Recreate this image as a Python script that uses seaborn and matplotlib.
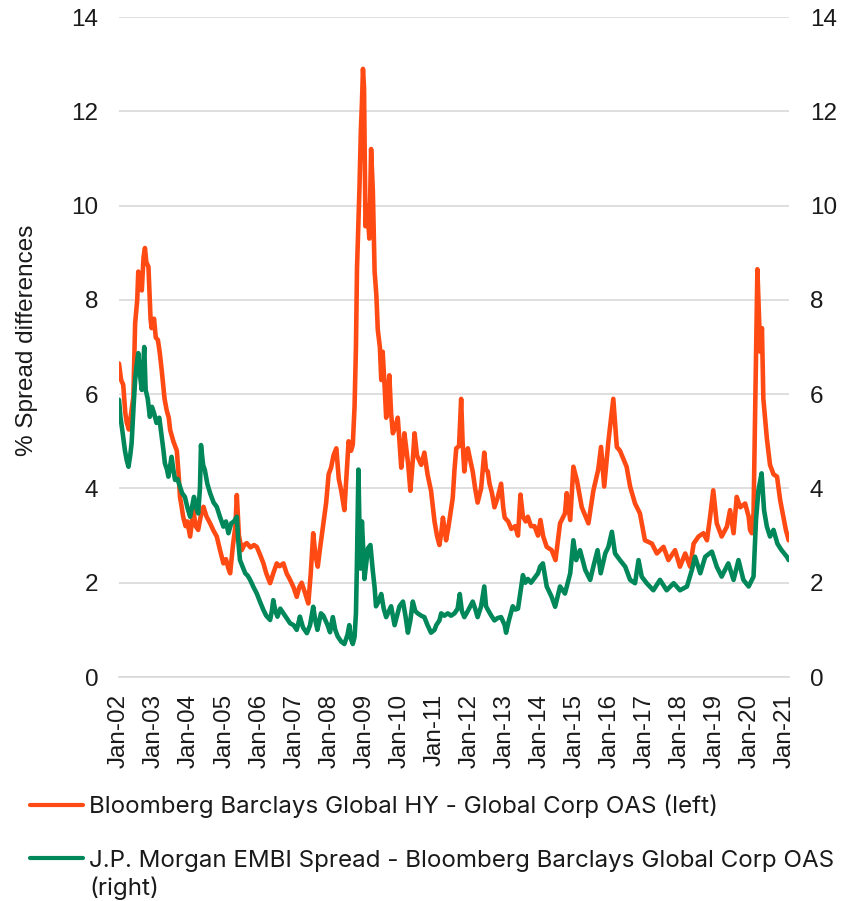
import pandas as pd
import matplotlib
matplotlib.use("Agg")
import matplotlib.pyplot as plt
import matplotlib.dates as mdates
import seaborn as sns

# ===========================
# DATA (x in fractional years)
# ===========================

hy_years = [
    2002.00, 2002.06, 2002.12, 2002.18, 2002.22, 2002.28, 2002.33, 2002.41, 2002.46, 2002.52,
    2002.55, 2002.60, 2002.65, 2002.70, 2002.74, 2002.78, 2002.84, 2002.90, 2002.93, 2003.00,
    2003.05, 2003.11, 2003.16, 2003.22, 2003.30, 2003.36, 2003.42, 2003.46, 2003.55, 2003.65,
    2003.70, 2003.74, 2003.79, 2003.83, 2003.90, 2003.95, 2004.03, 2004.08, 2004.12, 2004.19,
    2004.26, 2004.33, 2004.41, 2004.50, 2004.60, 2004.70, 2004.79, 2004.88, 2004.98, 2005.05,
    2005.12, 2005.17, 2005.25, 2005.32, 2005.36, 2005.42, 2005.50, 2005.57, 2005.64, 2005.75,
    2005.85, 2005.93, 2006.02, 2006.12, 2006.20, 2006.31, 2006.40, 2006.50, 2006.58, 2006.69,
    2006.78, 2006.88, 2006.98, 2007.07, 2007.14, 2007.21, 2007.30, 2007.40, 2007.47, 2007.54,
    2007.60, 2007.67, 2007.73, 2007.82, 2007.91, 2007.98, 2008.05, 2008.12, 2008.20, 2008.27,
    2008.34, 2008.43, 2008.50, 2008.55, 2008.62, 2008.67, 2008.72, 2008.76, 2008.79, 2008.83,
    2008.86, 2008.90, 2008.93, 2008.96, 2008.99, 2009.03, 2009.08, 2009.14, 2009.19, 2009.24,
    2009.29, 2009.34, 2009.38, 2009.44, 2009.48, 2009.52, 2009.58, 2009.62, 2009.67, 2009.71,
    2009.76, 2009.81, 2009.88, 2009.95, 2010.00, 2010.05, 2010.10, 2010.14, 2010.20, 2010.25,
    2010.31, 2010.38, 2010.43, 2010.50, 2010.56, 2010.62, 2010.71, 2010.80, 2010.90, 2011.00,
    2011.07, 2011.14, 2011.20, 2011.24, 2011.33, 2011.40, 2011.52, 2011.57, 2011.62, 2011.70,
    2011.76, 2011.80, 2011.85, 2011.90, 2011.95, 2012.02, 2012.09, 2012.16, 2012.23, 2012.33,
    2012.42, 2012.47, 2012.52, 2012.57, 2012.64, 2012.71, 2012.80, 2012.90, 2012.96, 2013.00,
    2013.10, 2013.19, 2013.30, 2013.38, 2013.45, 2013.52, 2013.60, 2013.66, 2013.75, 2013.85,
    2013.95, 2014.02, 2014.10, 2014.20, 2014.34, 2014.45, 2014.58, 2014.72, 2014.77, 2014.87,
    2014.96, 2015.06, 2015.20, 2015.39, 2015.53, 2015.67, 2015.75, 2015.84, 2015.96, 2016.10,
    2016.20, 2016.29, 2016.48, 2016.58, 2016.72, 2016.86, 2017.00, 2017.20, 2017.34, 2017.53,
    2017.67, 2017.86, 2018.00, 2018.15, 2018.29, 2018.39, 2018.53, 2018.67, 2018.77, 2018.86,
    2018.95, 2019.05, 2019.19, 2019.34, 2019.43, 2019.53, 2019.62, 2019.72, 2019.86, 2019.96,
    2020.00, 2020.05, 2020.10, 2020.14, 2020.21, 2020.29, 2020.34, 2020.38, 2020.48, 2020.57,
    2020.67, 2020.77, 2020.86, 2020.95, 2021.02, 2021.10,
]
hy_spread = [
    6.65, 6.30, 6.20, 5.60, 5.40, 5.25, 5.50, 5.95, 7.50, 8.00,
    8.60, 8.30, 8.20, 8.90, 9.10, 8.80, 8.70, 7.60, 7.40, 7.60,
    7.20, 7.15, 6.90, 6.50, 5.90, 5.66, 5.50, 5.24, 5.00, 4.80,
    4.30, 3.82, 3.60, 3.40, 3.20, 3.30, 2.98, 3.30, 3.54, 3.20,
    3.12, 3.40, 3.61, 3.40, 3.26, 3.10, 2.98, 2.70, 2.41, 2.50,
    2.30, 2.20, 2.80, 3.20, 3.86, 3.00, 2.69, 2.80, 2.84, 2.75,
    2.80, 2.76, 2.60, 2.41, 2.20, 1.99, 2.20, 2.41, 2.35, 2.41,
    2.20, 2.06, 1.90, 1.70, 1.90, 2.00, 1.80, 1.56, 2.20, 3.05,
    2.60, 2.34, 2.70, 3.20, 3.70, 4.30, 4.44, 4.70, 4.85, 4.20,
    3.95, 3.54, 4.40, 5.00, 4.80, 4.93, 5.74, 7.00, 8.67, 9.60,
    10.37, 11.60, 12.16, 12.90, 12.50, 9.56, 10.00, 9.30, 11.20, 10.30,
    8.60, 8.10, 7.37, 7.00, 6.30, 6.90, 6.10, 5.50, 6.00, 6.40,
    5.60, 5.17, 5.30, 5.50, 5.00, 4.44, 4.80, 5.17, 4.80, 4.50,
    3.95, 4.60, 5.17, 4.70, 4.60, 4.50, 4.76, 4.30, 3.95, 3.30,
    3.00, 2.80, 3.10, 3.38, 2.90, 3.20, 3.80, 4.40, 4.85, 4.90,
    5.90, 5.00, 4.36, 4.70, 4.85, 4.60, 4.36, 4.00, 3.70, 4.00,
    4.76, 4.40, 4.36, 4.10, 3.90, 3.60, 3.80, 4.10, 3.60, 3.38,
    3.30, 3.14, 3.20, 3.00, 3.87, 3.40, 3.30, 3.40, 3.20, 3.20,
    3.00, 3.33, 2.98, 2.76, 2.69, 2.48, 3.26, 3.47, 3.90, 3.33,
    4.46, 4.18, 3.60, 3.26, 3.95, 4.40, 4.88, 4.04, 5.00, 5.90,
    4.88, 4.80, 4.46, 4.04, 3.68, 3.47, 2.90, 2.83, 2.62, 2.76,
    2.48, 2.69, 2.34, 2.62, 2.34, 2.83, 2.98, 3.05, 2.90, 3.40,
    3.96, 3.26, 2.98, 3.19, 3.54, 3.05, 3.82, 3.60, 3.68, 3.40,
    3.12, 3.05, 3.47, 5.40, 8.65, 6.90, 7.40, 5.90, 5.06, 4.50,
    4.30, 4.25, 3.75, 3.40, 3.12, 2.90,
]

em_years = [
    2002.00, 2002.04, 2002.10, 2002.17, 2002.22, 2002.27, 2002.32, 2002.36, 2002.42, 2002.46,
    2002.50, 2002.55, 2002.60, 2002.65, 2002.72, 2002.76, 2002.82, 2002.88, 2002.94, 2003.00,
    2003.07, 2003.15, 2003.22, 2003.27, 2003.31, 2003.37, 2003.41, 2003.50, 2003.55, 2003.60,
    2003.67, 2003.74, 2003.80, 2003.88, 2003.95, 2004.03, 2004.14, 2004.20, 2004.26, 2004.31,
    2004.34, 2004.40, 2004.45, 2004.52, 2004.60, 2004.70, 2004.79, 2004.88, 2004.98, 2005.05,
    2005.12, 2005.20, 2005.28, 2005.36, 2005.40, 2005.45, 2005.52, 2005.60, 2005.67, 2005.74,
    2005.84, 2005.93, 2006.02, 2006.12, 2006.20, 2006.31, 2006.36, 2006.40, 2006.46, 2006.52,
    2006.60, 2006.69, 2006.78, 2006.88, 2006.98, 2007.07, 2007.12, 2007.16, 2007.25, 2007.36,
    2007.45, 2007.54, 2007.60, 2007.66, 2007.76, 2007.83, 2007.95, 2008.02, 2008.10, 2008.17,
    2008.24, 2008.34, 2008.43, 2008.52, 2008.57, 2008.62, 2008.67, 2008.72, 2008.76, 2008.79,
    2008.83, 2008.86, 2008.89, 2008.93, 2008.98, 2009.00, 2009.05, 2009.10, 2009.17, 2009.24,
    2009.29, 2009.33, 2009.40, 2009.48, 2009.55, 2009.62, 2009.70, 2009.76, 2009.86, 2009.93,
    2010.00, 2010.10, 2010.17, 2010.24, 2010.31, 2010.38, 2010.45, 2010.52, 2010.62, 2010.71,
    2010.80, 2010.90, 2011.00, 2011.05, 2011.14, 2011.19, 2011.28, 2011.38, 2011.47, 2011.57,
    2011.66, 2011.72, 2011.78, 2011.85, 2011.95, 2012.09, 2012.16, 2012.23, 2012.33, 2012.42,
    2012.47, 2012.52, 2012.62, 2012.71, 2012.80, 2012.90, 2013.00, 2013.04, 2013.12, 2013.23,
    2013.30, 2013.38, 2013.45, 2013.52, 2013.59, 2013.66, 2013.75, 2013.85, 2013.95, 2014.01,
    2014.09, 2014.20, 2014.34, 2014.44, 2014.58, 2014.72, 2014.87, 2014.96, 2015.04, 2015.15,
    2015.30, 2015.44, 2015.53, 2015.65, 2015.74, 2015.87, 2015.96, 2016.06, 2016.15, 2016.29,
    2016.44, 2016.58, 2016.72, 2016.82, 2016.91, 2017.05, 2017.24, 2017.43, 2017.62, 2017.82,
    2018.00, 2018.20, 2018.34, 2018.43, 2018.58, 2018.72, 2018.91, 2019.05, 2019.19, 2019.38,
    2019.53, 2019.67, 2019.81, 2019.96, 2020.10, 2020.17, 2020.24, 2020.33, 2020.40, 2020.48,
    2020.57, 2020.67, 2020.78, 2020.90, 2021.05, 2021.10,
]
em_spread = [
    5.88, 5.52, 5.20, 4.80, 4.60, 4.46, 4.70, 4.96, 5.80, 6.30,
    6.60, 6.87, 6.40, 6.09, 7.00, 6.09, 5.90, 5.52, 5.73, 5.60,
    5.39, 5.50, 5.10, 4.80, 4.53, 4.40, 4.25, 4.67, 4.40, 4.18,
    4.20, 4.04, 3.90, 3.82, 3.60, 3.40, 3.82, 3.60, 3.47, 4.00,
    4.92, 4.50, 4.39, 4.10, 3.90, 3.70, 3.61, 3.40, 3.19, 3.30,
    3.05, 3.26, 3.30, 3.40, 2.90, 2.48, 2.35, 2.20, 2.15, 2.06,
    1.90, 1.77, 1.60, 1.42, 1.30, 1.21, 1.40, 1.63, 1.40, 1.28,
    1.45, 1.35, 1.25, 1.14, 1.10, 1.00, 1.15, 1.28, 1.05, 0.93,
    1.10, 1.49, 1.20, 1.00, 1.35, 1.30, 1.10, 0.95, 1.27, 1.00,
    0.86, 0.75, 0.70, 0.90, 1.10, 0.80, 0.70, 0.85, 1.35, 2.50,
    4.40, 3.20, 2.30, 3.30, 2.50, 2.08, 2.40, 2.73, 2.80, 2.24,
    1.90, 1.50, 1.60, 1.76, 1.45, 1.27, 1.40, 1.50, 1.10, 1.30,
    1.50, 1.60, 1.30, 0.94, 1.20, 1.60, 1.40, 1.35, 1.30, 1.27,
    1.10, 0.94, 1.00, 1.10, 1.20, 1.35, 1.30, 1.35, 1.30, 1.35,
    1.45, 1.76, 1.40, 1.27, 1.40, 1.60, 1.45, 1.27, 1.50, 1.92,
    1.50, 1.43, 1.30, 1.20, 1.25, 1.27, 1.10, 0.94, 1.20, 1.50,
    1.43, 1.45, 1.80, 2.16, 2.00, 2.08, 2.00, 2.10, 2.20, 2.34,
    2.41, 1.92, 1.70, 1.49, 1.92, 1.77, 2.20, 2.90, 2.48, 2.69,
    2.27, 2.06, 2.34, 2.69, 2.20, 2.62, 2.76, 3.08, 2.62, 2.48,
    2.34, 2.06, 1.99, 2.48, 2.13, 1.99, 1.84, 2.06, 1.84, 1.99,
    1.84, 1.92, 2.27, 2.55, 2.20, 2.55, 2.66, 2.34, 2.13, 2.41,
    2.06, 2.48, 2.06, 1.92, 2.13, 3.33, 3.96, 4.32, 3.54, 3.19,
    2.98, 3.12, 2.83, 2.69, 2.55, 2.48,
]

hy_label = "Bloomberg Barclays Global HY - Global Corp OAS (left)"
em_label = "J.P. Morgan EMBI Spread - Bloomberg Barclays Global Corp OAS"
em_label_wrap = "(right)"
y_label = "% Spread differences"
y_ticks = [0, 2, 4, 6, 8, 10, 12, 14]

orange = "#ff4a14"
green = "#00875a"
grid_grey = "#d9d9d9"
text_col = "#1a1a1a"


def to_date(y):
    base = pd.Timestamp(year=int(y), month=1, day=1)
    return base + pd.Timedelta(days=(y - int(y)) * 365.25)


hy_df = pd.DataFrame({"Date": [to_date(y) for y in hy_years], "Spread": hy_spread})
em_df = pd.DataFrame({"Date": [to_date(y) for y in em_years], "Spread": em_spread})

# ===========================
# STYLE
# ===========================

sns.set_style("white")
plt.rcParams["font.family"] = ["Liberation Sans", "DejaVu Sans"]
plt.rcParams["text.color"] = text_col
fs = 17.5
leg_font = {"family": ["Inter", "DejaVu Sans"], "size": 17.4}

W, H = 856, 901
fig = plt.figure(figsize=(W / 100, H / 100), dpi=100)
ax = fig.add_axes([119 / W, 1 - 677 / H, 670 / W, 660 / H])
ax2 = ax.twinx()

# ===========================
# LINES
# ===========================

sns.lineplot(data=hy_df, x="Date", y="Spread", ax=ax, color=orange,
             linewidth=3.3, legend=False)
sns.lineplot(data=em_df, x="Date", y="Spread", ax=ax2, color=green,
             linewidth=3.3, legend=False)

# ===========================
# AXES
# ===========================

for a in (ax, ax2):
    a.set_ylim(0, 14)
    a.set_yticks(y_ticks)
    a.set_xlabel("")
    a.set_ylabel("")
    for s in a.spines.values():
        s.set_visible(False)
    a.tick_params(axis="y", length=0, pad=15, labelsize=fs, labelcolor=text_col)

ax.set_xlim(pd.Timestamp("2002-01-01"), pd.Timestamp("2021-02-10"))
ax.xaxis.set_major_locator(mdates.YearLocator())
ax.xaxis.set_major_formatter(mdates.DateFormatter("%b-%y"))
ax.tick_params(axis="x", length=6, width=1.2, color=grid_grey, pad=6,
               labelsize=fs, labelcolor=text_col, labelrotation=90)

ax.spines["bottom"].set_visible(True)
ax.spines["bottom"].set_color(grid_grey)
ax.spines["bottom"].set_linewidth(1.2)

ax.set_axisbelow(True)
ax.grid(axis="y", color=grid_grey, linewidth=1.2)
ax.grid(axis="x", visible=False)
ax2.grid(False)

fig.text(27 / W, 1 - 340 / H, y_label, rotation=90, ha="center", va="center",
         fontsize=fs)

# ===========================
# LEGEND
# ===========================

leg = fig.legend(
    [ax.lines[0], ax2.lines[0]],
    [hy_label, em_label],
    loc="upper left",
    bbox_to_anchor=(30 / W, 1 - 795 / H),
    frameon=False,
    prop=leg_font,
    handlelength=2.2,
    handletextpad=0.25,
    borderpad=0,
    borderaxespad=0,
    labelspacing=1.3,
)
for h in leg.legend_handles:
    h.set_linewidth(3.0)

# second line of the wrapped green label
fig.canvas.draw()
bb = leg.get_texts()[1].get_window_extent()
fig.text(bb.x0 / W, (0.5 * (bb.y0 + bb.y1) - 27) / H, em_label_wrap,
         ha="left", va="center", fontdict=leg_font)

fig.savefig("out.png", dpi=100)
